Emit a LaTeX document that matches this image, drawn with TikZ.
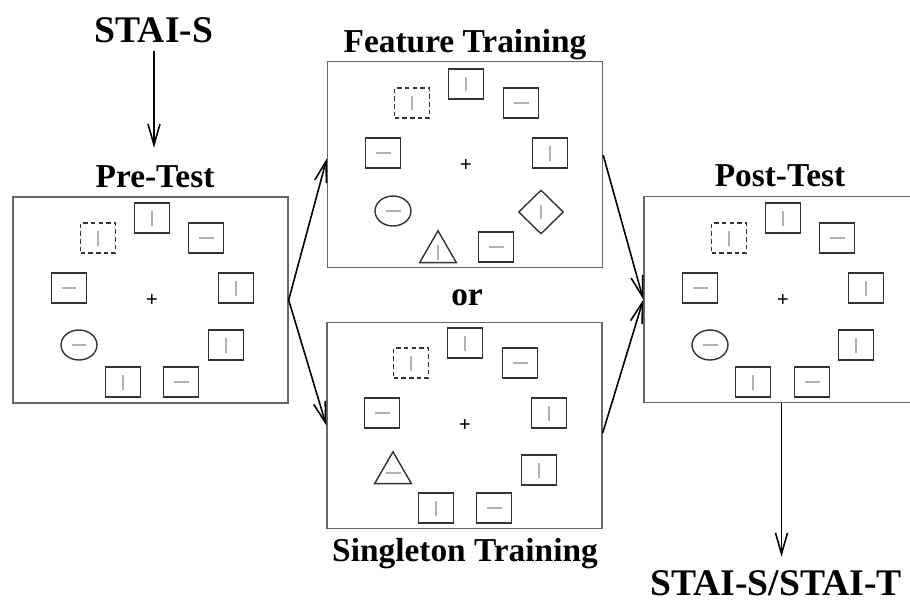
\documentclass[tikz,border=0pt]{standalone}
\usepackage{fontspec}
\setmainfont{Liberation Serif}
\usetikzlibrary{arrows.meta,shapes.geometric,calc}
\newcommand{\htick}{\textcolor{black!30}{\rule[-0.3pt]{0.3cm}{0.6pt}}}
\newcommand{\vtick}{\textcolor{black!30}{\rule{0.6pt}{0.3cm}}}

\begin{document}
\begin{tikzpicture}[x=0.02cm, y=-0.02cm,
    panel/.style={draw=black!60, line width=0.8pt, minimum width=5.5cm, minimum height=4.12cm, inner sep=0},
    item/.style={draw=black!80, line width=0.8pt, minimum width=0.7cm, minimum height=0.6cm, inner sep=0},
    dashitem/.style={item, dash pattern=on 2.6pt off 1.8pt},
    oval/.style={item, ellipse, minimum width=0.72cm, minimum height=0.6cm},
    diam/.style={item, diamond, minimum width=0.9cm, minimum height=0.88cm},
    tri/.style={item, regular polygon, regular polygon sides=3, minimum size=0.81cm},
    fix/.style={font=\fontsize{12}{12}\selectfont\bfseries, inner sep=0},
    ttl/.style={font=\fontsize{19}{19}\selectfont\bfseries, inner sep=0, anchor=base},
    big/.style={font=\fontsize{21.4}{22}\selectfont\bfseries, inner sep=0, anchor=base},
    arr/.style={-{Straight Barb[length=0.42cm, width=0.24cm]}, line width=0.9pt}
]
\clip (0,0) rectangle (910,605);

% panels
\node[panel] (pre) at (150.5,300) {};
\node[panel] (feat) at (465,164.5) {};
\node[panel] (sing) at (464.5,425.5) {};
\node[panel] (post) at (781.5,299.5) {};

% titles
\node[big] (stais) at (154,42) {STAI-S};
\node[ttl] (pretitle) at (155,187) {Pre-Test};
\node[ttl] (feattitle) at (465,52) {Feature Training};
\node[ttl] (ortxt) at (467,305) {or};
\node[ttl] (singtitle) at (465,561) {Singleton Training};
\node[ttl] (posttitle) at (780,186) {Post-Test};
\node[big] (staist) at (776,595) {STAI-S/STAI-T};

% pre-test display
\node[fix] (prefix) at (152,301) {+};
\node[item] (pretop) at (152,218) {\vtick};
\node[dashitem] (predash) at (98,238) {\vtick};
\node[item] (pretr) at (206,238) {\htick};
\node[item] (prel) at (69,288) {\htick};
\node[item] (prer) at (236,288) {\vtick};
\node[oval] (precirc) at (79,345) {\htick};
\node[item] (prerl) at (226,345) {\vtick};
\node[item] (prebl) at (123,382) {\vtick};
\node[item] (prebr) at (181,382) {\htick};

% feature training display
\node[fix] (featfix) at (466,166) {+};
\node[item] (feattop) at (466,84) {\vtick};
\node[dashitem] (featdash) at (412,103) {\vtick};
\node[item] (feattr) at (521,103) {\htick};
\node[item] (featl) at (383,153) {\htick};
\node[item] (featr) at (550,153) {\vtick};
\node[oval] (featcirc) at (393,211) {\htick};
\node[diam] (featdiam) at (541,212) {\vtick};
\node[tri] (feattri) at (438,252) {\vtick};
\node[item] (featbr) at (496,247) {\htick};

% singleton training display
\node[fix] (singfix) at (465,426) {+};
\node[item] (singtop) at (465,343) {\vtick};
\node[dashitem] (singdash) at (411,363) {\vtick};
\node[item] (singtr) at (520,363) {\htick};
\node[item] (singl) at (382,413) {\htick};
\node[item] (singr) at (549,413) {\vtick};
\node[tri] (singtri) at (393,473) {\htick};
\node[item] (singrl) at (539,470) {\vtick};
\node[item] (singbl) at (436,508) {\vtick};
\node[item] (singbr) at (494,508) {\htick};

% post-test display
\node[fix] (postfix) at (783,301) {+};
\node[item] (posttop) at (783,218) {\vtick};
\node[dashitem] (postdash) at (729,238) {\vtick};
\node[item] (posttr) at (837,238) {\htick};
\node[item] (postl) at (700,288) {\htick};
\node[item] (postr) at (866,288) {\vtick};
\node[oval] (postcirc) at (710,345) {\htick};
\node[item] (postrl) at (856,345) {\vtick};
\node[item] (postbl) at (753,382) {\vtick};
\node[item] (postbr) at (812,382) {\htick};

% flow
\draw[arr, shorten <=0.16cm, shorten >=0.34cm] (stais.south) -- (stais.south |- pretitle.north);
\draw[arr] (pre.east) -- ([yshift=0.12cm]feat.west);
\draw[arr] (pre.east) -- (sing.west);
\draw[arr] ([yshift=0.19cm]feat.east) -- (post.west);
\draw[arr] ([yshift=-0.15cm]sing.east) -- (post.west);
\draw[arr, shorten >=0.26cm] (post.south) -- (post.south |- staist.north);
\end{tikzpicture}
\end{document}
